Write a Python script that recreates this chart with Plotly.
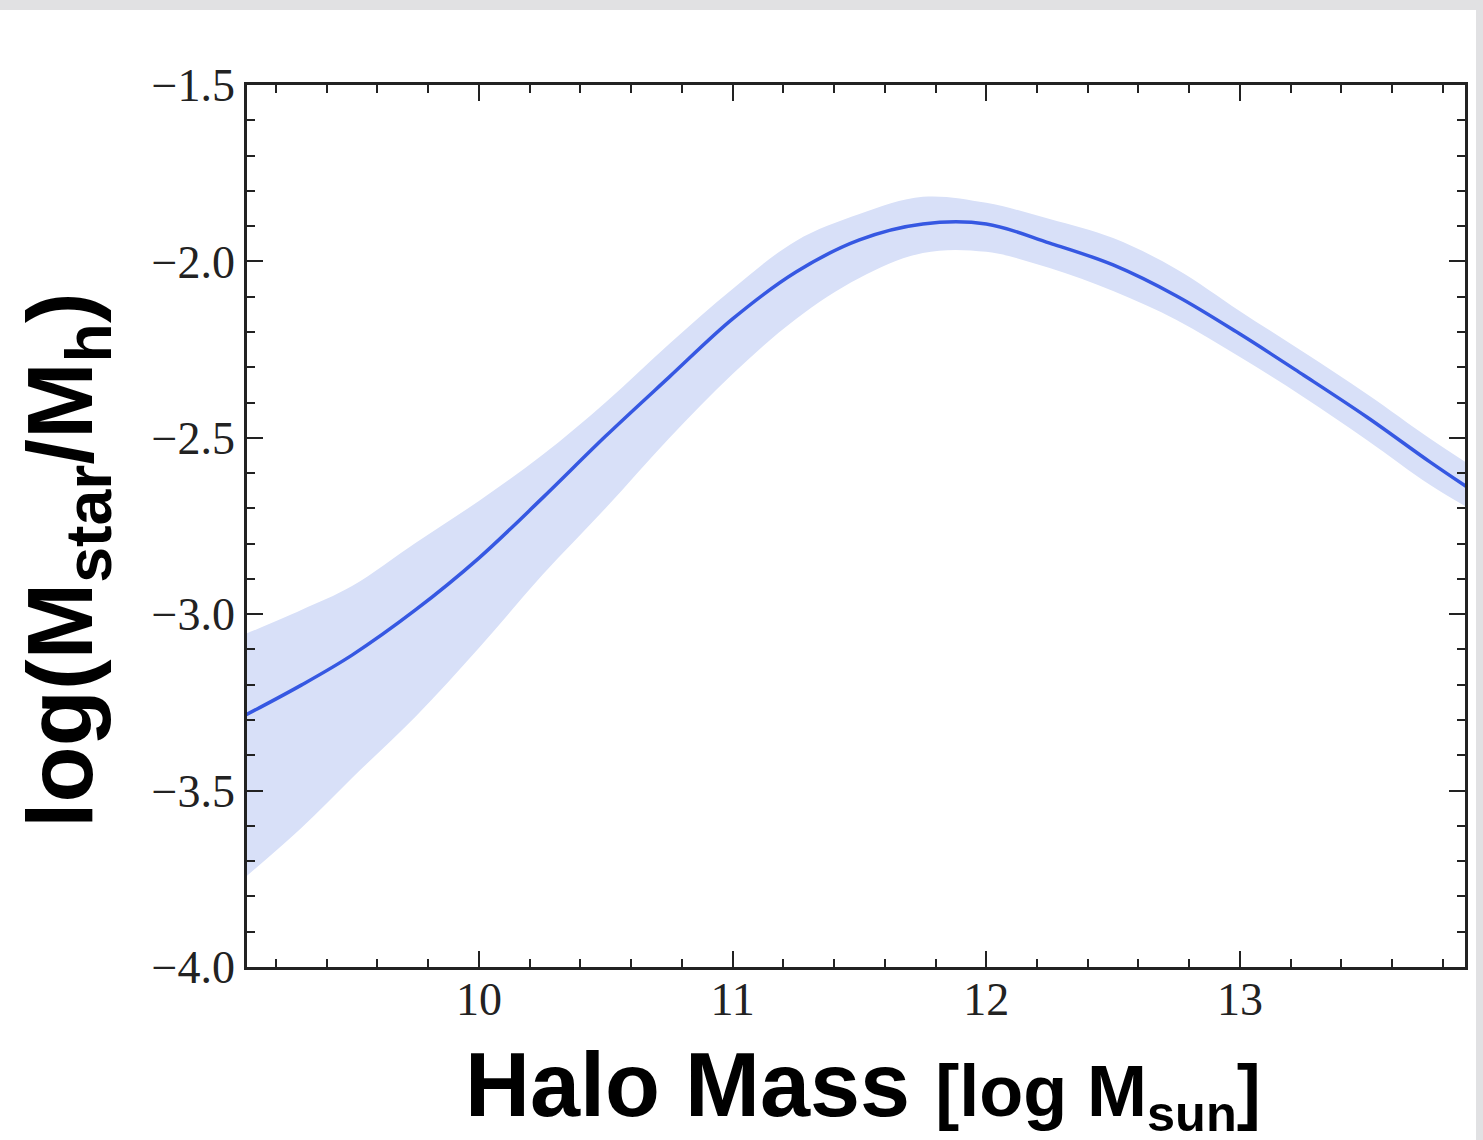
import plotly.graph_objects as go

# ---- data ----
halo_mass = [9.08, 9.3, 9.5, 9.75, 10.0, 10.25, 10.5, 10.75, 11.0, 11.25, 11.5,
             11.75, 12.0, 12.25, 12.5, 12.75, 13.0, 13.25, 13.5, 13.75, 13.9]
ratio_median = [-3.286, -3.201, -3.116, -2.988, -2.841, -2.671, -2.495, -2.328, -2.163, -2.030, -1.939,
                -1.894, -1.894, -1.948, -2.010, -2.098, -2.206, -2.322, -2.441, -2.569, -2.642]
ratio_upper = [-3.056, -2.988, -2.920, -2.798, -2.679, -2.549, -2.399, -2.234, -2.078, -1.942, -1.866,
               -1.817, -1.834, -1.880, -1.934, -2.022, -2.141, -2.257, -2.376, -2.503, -2.574]
ratio_lower = [-3.745, -3.606, -3.464, -3.291, -3.096, -2.889, -2.699, -2.501, -2.319, -2.163, -2.047,
               -1.976, -1.973, -2.019, -2.084, -2.166, -2.271, -2.384, -2.506, -2.634, -2.699]

x_tick_vals = [10, 11, 12, 13]
x_tick_text = ["10", "11", "12", "13"]
y_tick_vals = [-4.0, -3.5, -3.0, -2.5, -2.0, -1.5]
y_tick_text = ["\u22124.0", "\u22123.5", "\u22123.0", "\u22122.5", "\u22122.0", "\u22121.5"]

x_title = "Halo Mass <span style='font-size:72px'>[log M<sub>sun</sub>]</span>"
y_title = "log(M<sub>star</sub>/M<sub>h</sub>)"

# ---- figure (body margin removed by post_script, so layout in page pixels) ----
W, H = 1483, 1140
L, T = 247, 85
R = W - 1465
B = H - 967
pw, ph = W - L - R, H - T - B

def px_x(p):
    return (p - L) / pw

def px_y(p):
    return (H - B - p) / ph

fig = go.Figure()

fig.add_trace(go.Scatter(x=halo_mass, y=ratio_upper, mode="lines",
                         line=dict(width=0, color="#d8e0f8", shape="spline"),
                         hoverinfo="skip", showlegend=False))
fig.add_trace(go.Scatter(x=halo_mass, y=ratio_lower, mode="lines",
                         line=dict(width=0, color="#d8e0f8", shape="spline"),
                         fill="tonexty", fillcolor="#d8e0f8",
                         hoverinfo="skip", showlegend=False))
fig.add_trace(go.Scatter(x=halo_mass, y=ratio_median, mode="lines",
                         line=dict(width=3.5, color="#3658e2", shape="spline"),
                         showlegend=False))

tick_font = dict(family="Liberation Serif", size=46, color="#222222")
axis_common = dict(showline=True, linecolor="#222222", linewidth=2.5, mirror="ticks",
                   ticks="inside", ticklen=16, tickwidth=2, tickcolor="#222222",
                   showgrid=False, zeroline=False, tickfont=tick_font,
                   tickmode="array")

fig.update_xaxes(**axis_common, range=[9.086, 13.887],
                 tickvals=x_tick_vals, ticktext=x_tick_text,
                 minor=dict(ticks="inside", ticklen=8, tickwidth=2, tickcolor="#222222",
                            dtick=0.2, tick0=0, showgrid=False),
                 ticklabelstandoff=-10)
fig.update_yaxes(**axis_common, range=[-4.0, -1.5],
                 tickvals=y_tick_vals, ticktext=y_tick_text,
                 minor=dict(ticks="inside", ticklen=8, tickwidth=2, tickcolor="#222222",
                            dtick=0.1, tick0=0, showgrid=False),
                 ticklabelstandoff=0)

fig.add_shape(type="rect", xref="paper", yref="paper", layer="below",
              x0=px_x(-10), x1=px_x(1476), y0=px_y(1150), y1=px_y(10),
              fillcolor="white", line=dict(width=0))

fig.add_annotation(xref="paper", yref="paper", x=px_x(863), y=px_y(1088),
                   xanchor="center", yanchor="middle", showarrow=False,
                   text=x_title, font=dict(family="Liberation Sans", size=90,
                                           color="black", weight="bold"))
fig.add_annotation(xref="paper", yref="paper", x=px_x(67), y=px_y(560),
                   xanchor="center", yanchor="middle", showarrow=False,
                   textangle=-90, text=y_title,
                   font=dict(family="Liberation Sans", size=92, color="black", weight="bold"))

fig.update_layout(width=W, height=H, margin=dict(l=L, r=R, t=T, b=B),
                  paper_bgcolor="#e1e1e3", plot_bgcolor="white")

fig.write_html("out.html", config={"displayModeBar": False},
               post_script="document.body.style.margin='0';document.body.style.overflow='hidden';")
